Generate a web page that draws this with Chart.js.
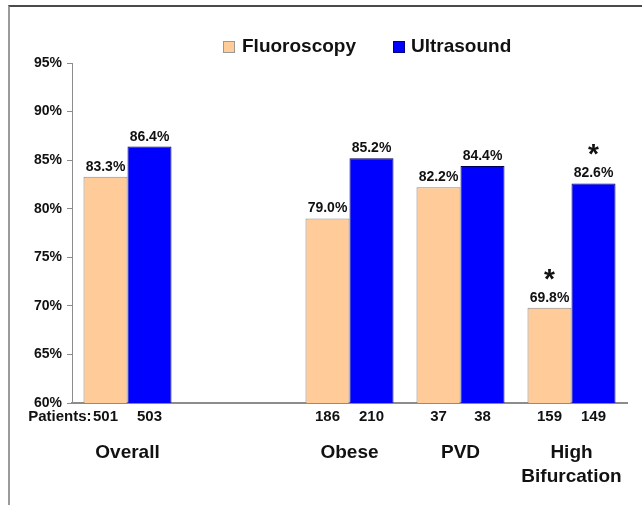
<!DOCTYPE html>
<html lang="en">
<head>
  <meta charset="UTF-8">
  <title>Fluoroscopy vs Ultrasound</title>
  <script src="https://cdn.jsdelivr.net/npm/chart.js"></script>
  <style>
    body { margin: 0; background: #fff; }
    #wrap { position: relative; width: 642px; height: 505px; overflow: hidden; }
    #frame { position: absolute; left: 8px; top: 5px; right: -5px; bottom: -5px;
             border-top: 2px solid #4a4a4a; border-left: 2px solid #9a9a9a; }
    #chart { position: absolute; left: 0; top: 0; }
  </style>
</head>
<body>
  <div id="wrap">
    <div id="frame"></div>
    <canvas id="chart" width="642" height="505"></canvas>
  </div>

  <script>
    // Dados do gráfico
    const categorias = ['Overall', '', 'Obese', 'PVD', ['High', 'Bifurcation']];
    const fluoroscopia = [83.3, null, 79.0, 82.2, 69.8];
    const ultrassom = [86.4, null, 85.2, 84.4, 82.6];
    const pacientesFluoro = ['501', '', '186', '37', '159'];
    const pacientesUltra = ['503', '', '210', '38', '149'];
    const asteriscosFluoro = ['', '', '', '', '*'];
    const asteriscosUltra = ['', '', '', '', '*'];
    const nomesSeries = ['Fluoroscopy', 'Ultrasound'];
    const cores = ['#FFCC99', '#0000FF'];

    const fonte = "'Liberation Sans', Arial, sans-serif";
    const corTexto = '#111';

    // Rótulos, asteriscos, linha de pacientes e legenda
    const extras = {
      id: 'extras',
      afterDatasetsDraw(chart) {
        const ctx = chart.ctx;
        const area = chart.chartArea;
        const marcas = [asteriscosFluoro, asteriscosUltra];
        const pacientes = [pacientesFluoro, pacientesUltra];
        ctx.save();
        ctx.fillStyle = corTexto;
        ctx.textAlign = 'center';

        chart.data.datasets.forEach((ds, d) => {
          const meta = chart.getDatasetMeta(d);
          meta.data.forEach((bar, i) => {
            const v = ds.data[i];
            if (v == null) return;
            ctx.font = `bold 14px ${fonte}`;
            ctx.textBaseline = 'alphabetic';
            ctx.fillText(v.toFixed(1) + '%', bar.x, bar.y - 6);
            if (marcas[d][i]) {
              ctx.font = `bold 28px ${fonte}`;
              ctx.fillText(marcas[d][i], bar.x, bar.y - 20);
            }
            ctx.font = `bold 15px ${fonte}`;
            ctx.textBaseline = 'middle';
            ctx.fillText(pacientes[d][i], bar.x, area.bottom + 14);
          });
        });

        // "Patients:" à esquerda do primeiro número
        const primeira = chart.getDatasetMeta(0).data[0];
        ctx.font = `bold 15px ${fonte}`;
        ctx.textAlign = 'right';
        ctx.textBaseline = 'middle';
        ctx.fillText('Patients:', primeira.x - 14, area.bottom + 14);

        // Legenda
        const posLegenda = [[223, 242], [393, 411]];
        ctx.font = `bold 19px ${fonte}`;
        ctx.textAlign = 'left';
        nomesSeries.forEach((nome, k) => {
          const [bx, tx] = posLegenda[k];
          ctx.fillStyle = cores[k];
          ctx.fillRect(bx, 41, 12, 12);
          ctx.strokeStyle = k === 0 ? '#999' : '#000080';
          ctx.lineWidth = 1;
          ctx.strokeRect(bx + 0.5, 41.5, 11, 11);
          ctx.fillStyle = corTexto;
          ctx.fillText(nome, tx, 47);
        });
        ctx.restore();
      }
    };

    new Chart(document.getElementById('chart'), {
      type: 'bar',
      data: {
        labels: categorias,
        datasets: [
          { label: nomesSeries[0], data: fluoroscopia, backgroundColor: cores[0], borderColor: '#8a8a8a', borderWidth: 1 },
          { label: nomesSeries[1], data: ultrassom, backgroundColor: cores[1], borderColor: '#00005a', borderWidth: 1 }
        ]
      },
      options: {
        responsive: false,
        animation: false,
        categoryPercentage: 0.793,
        barPercentage: 1,
        layout: { padding: { top: 63, right: 15, left: 0, bottom: 0 } },
        plugins: { legend: { display: false }, tooltip: { enabled: false } },
        scales: {
          x: {
            grid: { display: false, drawTicks: false },
            border: { display: true, color: '#8c8c8c', width: 2 },
            ticks: { color: corTexto, padding: 38, maxRotation: 0, autoSkip: false,
                     font: { family: fonte, size: 19, weight: 'bold', lineHeight: 1.26 } },
            afterFit: s => { s.height = 102; s.paddingLeft = 0; s.paddingRight = 0; }
          },
          y: {
            min: 60,
            max: 95,
            ticks: { stepSize: 5, padding: 5, color: corTexto, callback: v => v + '%',
                     font: { family: fonte, size: 14, weight: 'bold' } },
            grid: { drawOnChartArea: false, drawTicks: true, tickLength: 5, color: '#8c8c8c' },
            border: { display: true, color: '#8c8c8c', width: 1 },
            afterFit: s => { s.width = 72; s.paddingTop = 0; s.paddingBottom = 0; }
          }
        }
      },
      plugins: [extras]
    });
  </script>
</body>
</html>
